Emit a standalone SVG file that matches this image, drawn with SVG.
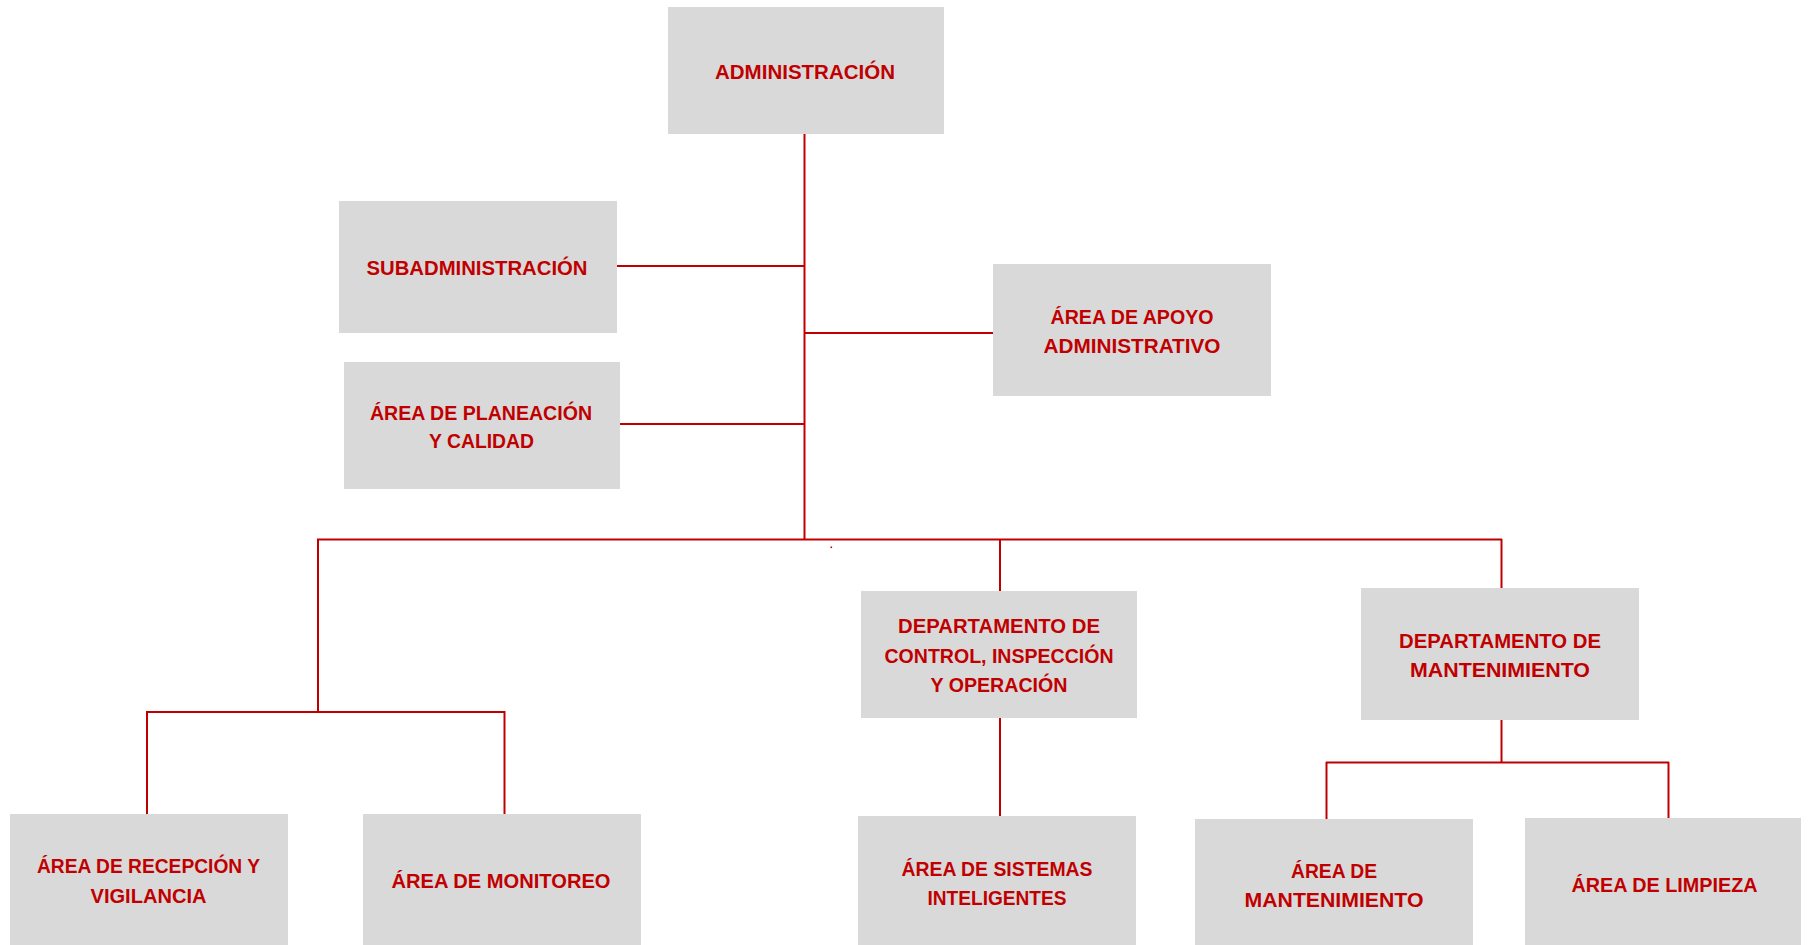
<svg xmlns="http://www.w3.org/2000/svg" width="1810" height="945" viewBox="0 0 1810 945">
<style>
.box{fill:#D9D9D9}
.t{font-family:"Liberation Sans",Arial,sans-serif;font-weight:bold;font-size:21px;fill:#C00000;text-anchor:middle}
.c{stroke:#C00000;stroke-width:2;fill:none}
</style>
<rect width="1810" height="945" fill="#FFFFFF"/>
<g id="connectors" class="c">
<line x1="804.5" y1="134" x2="804.5" y2="540"/>
<line x1="617" y1="266" x2="804.5" y2="266"/>
<line x1="804.5" y1="333" x2="993" y2="333"/>
<line x1="620" y1="424" x2="804.5" y2="424"/>
<line x1="317" y1="539.5" x2="1502" y2="539.5"/>
<line x1="318" y1="539" x2="318" y2="712"/>
<line x1="146" y1="712" x2="505" y2="712"/>
<line x1="147" y1="711" x2="147" y2="815"/>
<line x1="504.5" y1="711" x2="504.5" y2="815"/>
<line x1="1000" y1="539" x2="1000" y2="591"/>
<line x1="1000" y1="717" x2="1000" y2="816"/>
<line x1="1501.5" y1="539" x2="1501.5" y2="589"/>
<line x1="1501.5" y1="719" x2="1501.5" y2="763"/>
<line x1="1326" y1="762.5" x2="1669" y2="762.5"/>
<line x1="1326.5" y1="762" x2="1326.5" y2="820"/>
<line x1="1668.5" y1="762" x2="1668.5" y2="818"/>
</g>
<rect x="830.5" y="546.5" width="1.6" height="1.6" fill="#C00000"/>
<g id="administracion">
<rect class="box" x="668" y="7" width="276" height="127"/>
<text class="t" x="805" y="79" textLength="180" lengthAdjust="spacingAndGlyphs">ADMINISTRACIÓN</text>
</g>
<g id="subadministracion">
<rect class="box" x="339" y="201" width="278" height="132"/>
<text class="t" x="477" y="275" textLength="221" lengthAdjust="spacingAndGlyphs">SUBADMINISTRACIÓN</text>
</g>
<g id="planeacion">
<rect class="box" x="344" y="362" width="276" height="127"/>
<text class="t" x="481" y="419.5" textLength="222" lengthAdjust="spacingAndGlyphs">ÁREA DE PLANEACIÓN</text>
<text class="t" x="481.5" y="448" textLength="105" lengthAdjust="spacingAndGlyphs">Y CALIDAD</text>
</g>
<g id="apoyo">
<rect class="box" x="993" y="264" width="278" height="132"/>
<text class="t" x="1132" y="324" textLength="163" lengthAdjust="spacingAndGlyphs">ÁREA DE APOYO</text>
<text class="t" x="1132" y="352.7" textLength="177" lengthAdjust="spacingAndGlyphs">ADMINISTRATIVO</text>
</g>
<g id="recepcion">
<rect class="box" x="10" y="814" width="278" height="131"/>
<text class="t" x="148.5" y="873.3" textLength="223" lengthAdjust="spacingAndGlyphs">ÁREA DE RECEPCIÓN Y</text>
<text class="t" x="148.5" y="903.3" textLength="116" lengthAdjust="spacingAndGlyphs">VIGILANCIA</text>
</g>
<g id="monitoreo">
<rect class="box" x="363" y="814" width="278" height="131"/>
<text class="t" x="501" y="888.3" textLength="219" lengthAdjust="spacingAndGlyphs">ÁREA DE MONITOREO</text>
</g>
<g id="control">
<rect class="box" x="861" y="591" width="276" height="127"/>
<text class="t" x="999" y="633.3" textLength="202" lengthAdjust="spacingAndGlyphs">DEPARTAMENTO DE</text>
<text class="t" x="999" y="662.7" textLength="229" lengthAdjust="spacingAndGlyphs">CONTROL, INSPECCIÓN</text>
<text class="t" x="999" y="692" textLength="137" lengthAdjust="spacingAndGlyphs">Y OPERACIÓN</text>
</g>
<g id="sistemas">
<rect class="box" x="858" y="816" width="278" height="129"/>
<text class="t" x="997" y="876" textLength="191" lengthAdjust="spacingAndGlyphs">ÁREA DE SISTEMAS</text>
<text class="t" x="997" y="905" textLength="139" lengthAdjust="spacingAndGlyphs">INTELIGENTES</text>
</g>
<g id="depto-mantenimiento">
<rect class="box" x="1361" y="588" width="278" height="132"/>
<text class="t" x="1500" y="648.3" textLength="202" lengthAdjust="spacingAndGlyphs">DEPARTAMENTO DE</text>
<text class="t" x="1500" y="676.7" textLength="180" lengthAdjust="spacingAndGlyphs">MANTENIMIENTO</text>
</g>
<g id="area-mantenimiento">
<rect class="box" x="1195" y="819" width="278" height="126"/>
<text class="t" x="1334" y="878.3" textLength="86" lengthAdjust="spacingAndGlyphs">ÁREA DE</text>
<text class="t" x="1334" y="907.3" textLength="179" lengthAdjust="spacingAndGlyphs">MANTENIMIENTO</text>
</g>
<g id="limpieza">
<rect class="box" x="1525" y="818" width="276" height="127"/>
<text class="t" x="1664.5" y="891.7" textLength="186" lengthAdjust="spacingAndGlyphs">ÁREA DE LIMPIEZA</text>
</g>
</svg>
